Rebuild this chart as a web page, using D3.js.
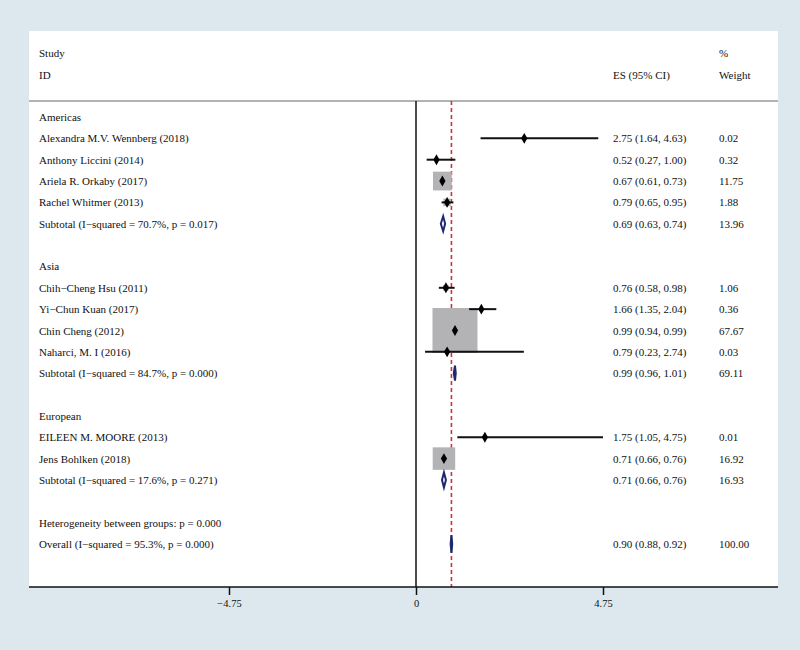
<!DOCTYPE html>
<html>
<head>
<meta charset="utf-8">
<script src="https://cdn.jsdelivr.net/npm/d3@7"></script>
<style>
  body { margin: 0; background: #dde8ee; }
  text { font-family: "Liberation Serif", "Times New Roman", serif; fill: #111; }
</style>
</head>
<body>
<div id="forest"></div>
<script>
// row labels, top to bottom
var rowLabels = [
  "Americas",
  "Alexandra M.V. Wennberg (2018)",
  "Anthony Liccini (2014)",
  "Ariela R. Orkaby (2017)",
  "Rachel Whitmer (2013)",
  "Subtotal  (I\u2212squared = 70.7%, p = 0.017)",
  "",
  "Asia",
  "Chih\u2212Cheng Hsu (2011)",
  "Yi\u2212Chun Kuan (2017)",
  "Chin Cheng (2012)",
  "Naharci, M. I (2016)",
  "Subtotal  (I\u2212squared = 84.7%, p = 0.000)",
  "",
  "European",
  "EILEEN M. MOORE (2013)",
  "Jens Bohlken (2018)",
  "Subtotal  (I\u2212squared = 17.6%, p = 0.271)",
  "",
  "Heterogeneity between groups: p = 0.000",
  "Overall  (I\u2212squared = 95.3%, p = 0.000)"
];

// what kind of row: group, study, subtotal, overall, note, blank
var rowTypes = [
  "group", "study", "study", "study", "study", "subtotal", "blank",
  "group", "study", "study", "study", "study", "subtotal", "blank",
  "group", "study", "study", "subtotal", "blank",
  "note", "overall"
];

// effect sizes and 95% CI
var esValues = [null, 2.75, 0.52, 0.67, 0.79, 0.69, null,
  null, 0.76, 1.66, 0.99, 0.79, 0.99, null,
  null, 1.75, 0.71, 0.71, null,
  null, 0.90];
var ciLower = [null, 1.64, 0.27, 0.61, 0.65, 0.63, null,
  null, 0.58, 1.35, 0.94, 0.23, 0.96, null,
  null, 1.05, 0.66, 0.66, null,
  null, 0.88];
var ciUpper = [null, 4.63, 1.00, 0.73, 0.95, 0.74, null,
  null, 0.98, 2.04, 0.99, 2.74, 1.01, null,
  null, 4.75, 0.76, 0.76, null,
  null, 0.92];

// % weight
var weights = [null, 0.02, 0.32, 11.75, 1.88, 13.96, null,
  null, 1.06, 0.36, 67.67, 0.03, 69.11, null,
  null, 0.01, 16.92, 16.93, null,
  null, 100.00];

var xTicks = [-4.75, 0, 4.75];
var overallES = 0.90;

// sizes
var svgWidth = 800;
var svgHeight = 650;
var panel = { left: 29, top: 31, right: 778, bottom: 587 };
var headerLine = 101;
var colES = 613;
var colWeight = 719;

var svg = d3.select("#forest")
  .append("svg")
  .attr("width", svgWidth)
  .attr("height", svgHeight);

// backgrounds
svg.append("rect")
  .attr("width", svgWidth)
  .attr("height", svgHeight)
  .attr("fill", "#dde8ee");

svg.append("rect")
  .attr("x", panel.left)
  .attr("y", panel.top)
  .attr("width", panel.right - panel.left)
  .attr("height", panel.bottom - panel.top)
  .attr("fill", "#ffffff");

// scales
var xScale = d3.scaleLinear()
  .domain([-4.75, 4.75])
  .range([229, 603]);

var yScale = d3.scaleLinear()
  .domain([0, rowLabels.length - 1])
  .range([117, 544]);

var boxScale = d3.scaleSqrt()
  .domain([0, 67.67])
  .range([0, 45]);

var rows = rowLabels.map(function(label, i) {
  return {
    label: label,
    type: rowTypes[i],
    es: esValues[i],
    lo: ciLower[i],
    hi: ciUpper[i],
    w: weights[i],
    i: i
  };
});

// header
svg.append("text").attr("x", 39).attr("y", 57).attr("font-size", "11px").text("Study");
svg.append("text").attr("x", 39).attr("y", 79).attr("font-size", "11px").text("ID");
svg.append("text").attr("x", colES).attr("y", 79).attr("font-size", "11px").text("ES (95% CI)");
svg.append("text").attr("x", colWeight).attr("y", 57).attr("font-size", "11px").text("%");
svg.append("text").attr("x", colWeight).attr("y", 79).attr("font-size", "11px").text("Weight");

svg.append("line")
  .attr("x1", panel.left)
  .attr("x2", panel.right)
  .attr("y1", headerLine)
  .attr("y2", headerLine)
  .attr("stroke", "#9a9a9a")
  .attr("stroke-width", 1.5);

// null line and overall line
svg.append("line")
  .attr("x1", xScale(0))
  .attr("x2", xScale(0))
  .attr("y1", headerLine)
  .attr("y2", panel.bottom)
  .attr("stroke", "#111")
  .attr("stroke-width", 1.5);

svg.append("line")
  .attr("x1", xScale(overallES))
  .attr("x2", xScale(overallES))
  .attr("y1", headerLine)
  .attr("y2", panel.bottom)
  .attr("stroke", "#cc3340")
  .attr("stroke-width", 1.6)
  .attr("stroke-dasharray", "4,3");

// row labels
svg.append("g")
  .selectAll("text")
  .data(rows.filter(d => d.label !== ""))
  .enter()
  .append("text")
  .attr("x", 39)
  .attr("y", d => yScale(d.i) + 4)
  .attr("font-size", "11px")
  .text(d => d.label);

var withES = rows.filter(d => d.es !== null);

// ES column
svg.append("g")
  .selectAll("text")
  .data(withES)
  .enter()
  .append("text")
  .attr("x", colES)
  .attr("y", d => yScale(d.i) + 4)
  .attr("font-size", "11px")
  .text(d => d.es.toFixed(2) + " (" + d.lo.toFixed(2) + ", " + d.hi.toFixed(2) + ")");

// weight column
svg.append("g")
  .selectAll("text")
  .data(withES)
  .enter()
  .append("text")
  .attr("x", colWeight)
  .attr("y", d => yScale(d.i) + 4)
  .attr("font-size", "11px")
  .text(d => d.w.toFixed(2));

var studies = rows.filter(d => d.type === "study");

// weight boxes
svg.append("g")
  .selectAll("rect")
  .data(studies)
  .enter()
  .append("rect")
  .attr("x", d => xScale(d.es) - boxScale(d.w) / 2)
  .attr("y", d => yScale(d.i) - boxScale(d.w) / 2)
  .attr("width", d => boxScale(d.w))
  .attr("height", d => boxScale(d.w))
  .attr("fill", "#b3b3b5");

// CI lines
svg.append("g")
  .selectAll("line")
  .data(studies)
  .enter()
  .append("line")
  .attr("x1", d => xScale(d.lo))
  .attr("x2", d => xScale(d.hi))
  .attr("y1", d => yScale(d.i))
  .attr("y2", d => yScale(d.i))
  .attr("stroke", "#111")
  .attr("stroke-width", 2);

// point estimates
svg.append("g")
  .selectAll("path")
  .data(studies)
  .enter()
  .append("path")
  .attr("d", d3.symbol().type(d3.symbolDiamond).size(34))
  .attr("transform", d => `translate(${xScale(d.es)}, ${yScale(d.i)})`)
  .attr("fill", "#000");

// pooled diamonds
svg.append("g")
  .selectAll("path")
  .data(rows.filter(d => d.type === "subtotal" || d.type === "overall"))
  .enter()
  .append("path")
  .attr("d", function(d) {
    var y = yScale(d.i);
    var h = d.type === "overall" ? 9 : 7.5;
    return "M" + xScale(d.lo) + "," + y +
      "L" + xScale(d.es) + "," + (y - h) +
      "L" + xScale(d.hi) + "," + y +
      "L" + xScale(d.es) + "," + (y + h) + "Z";
  })
  .attr("fill", "#ffffff")
  .attr("stroke", "#1d2a6b")
  .attr("stroke-width", 2);

// x axis
svg.append("line")
  .attr("x1", panel.left)
  .attr("x2", panel.right)
  .attr("y1", panel.bottom)
  .attr("y2", panel.bottom)
  .attr("stroke", "#111")
  .attr("stroke-width", 1.5);

var bottomAxis = d3.axisBottom(xScale)
  .tickValues(xTicks)
  .tickSize(8)
  .tickPadding(5)
  .tickFormat(d => d === 0 ? "0" : d3.format(".2f")(d));

var xAxis = svg.append("g")
  .attr("transform", `translate(0, ${panel.bottom})`)
  .call(bottomAxis);

xAxis.select(".domain").remove();
xAxis.selectAll("line").attr("stroke", "#111").attr("stroke-width", 1.5);
xAxis.selectAll("text")
  .attr("font-family", "Liberation Serif, serif")
  .attr("font-size", "10.5px")
  .attr("fill", "#111");
</script>
</body>
</html>
